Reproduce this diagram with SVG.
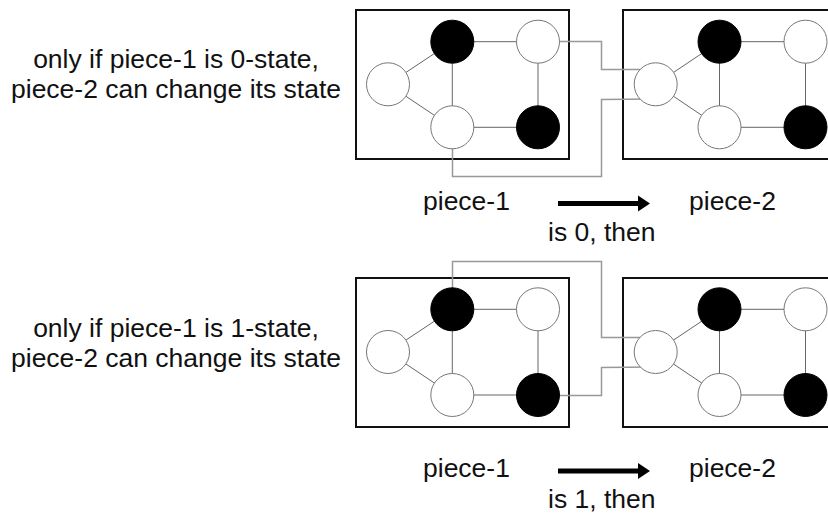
<svg xmlns="http://www.w3.org/2000/svg" xmlns:xlink="http://www.w3.org/1999/xlink" width="828" height="514" viewBox="0 0 828 514">
<defs>
<style>
text{font-family:"Liberation Sans",Arial,sans-serif;font-size:26.5px;fill:#111}
.box{fill:none;stroke:#111;stroke-width:2}
.edge{stroke:#666;stroke-width:1;fill:none}
.conn{stroke:#999;stroke-width:1.5;fill:none}
.w{fill:#fff;stroke:#777;stroke-width:1}
.b{fill:#000;stroke:#000;stroke-width:1}
.mid{text-anchor:middle}
</style>
<path id="arrow" d="M0,-2.5 H80 V-8 L92,0 L80,8 V2.5 H0 Z" fill="#000"/>
</defs>
<rect width="828" height="514" fill="#fff"/>

<g id="caption-top">
<text class="mid" x="176" y="68">only if piece-1 is 0-state,</text>
<text class="mid" x="176" y="98">piece-2 can change its state</text>
</g>
<g id="caption-bottom">
<text class="mid" x="176" y="337">only if piece-1 is 1-state,</text>
<text class="mid" x="176" y="367">piece-2 can change its state</text>
</g>

<g id="boxes">
<rect id="box-p1-top" class="box" x="356" y="10" width="213" height="149"/>
<rect id="box-p2-top" class="box" x="623" y="10" width="230" height="149"/>
<rect id="box-p1-bot" class="box" x="356" y="278" width="213" height="149"/>
<rect id="box-p2-bot" class="box" x="623" y="278" width="230" height="149"/>
</g>

<g id="connectors">
<polyline class="conn" points="538,41.5 601.5,41.5 601.5,69.5 655,69.5"/>
<polyline class="conn" points="452.5,127 452.5,176.5 601.5,176.5 601.5,99.5 655,99"/>
<polyline class="conn" points="452.5,309 452.5,261.5 601.5,261.5 601.5,337.5 655,337.5"/>
<polyline class="conn" points="538,395.5 601.5,395.5 601.5,367.5 655,367"/>
</g>

<g id="edges">
<path class="edge" d="M388,84.3 L452.3,41.7 M388,84.3 L452.3,127.3 M452.3,41.7 H538 M452.3,41.7 V127.3 M538,41.7 V127.3 M452.3,127.3 H538"/>
<path class="edge" d="M655.7,84.3 L719.5,41.7 M655.7,84.3 L719.5,127.3 M719.5,41.7 H805.5 M719.5,41.7 V127.3 M805.5,41.7 V127.3 M719.5,127.3 H805.5"/>
<path class="edge" d="M388,352 L452.3,309.3 M388,352 L452.3,395 M452.3,309.3 H538 M452.3,309.3 V395 M538,309.3 V395 M452.3,395 H538"/>
<path class="edge" d="M655.7,352 L719.5,309.3 M655.7,352 L719.5,395 M719.5,309.3 H805.5 M719.5,309.3 V395 M805.5,309.3 V395 M719.5,395 H805.5"/>
</g>

<g id="piece1-top">
<circle id="p1t-left" class="w" cx="388" cy="84.3" r="21.5"/>
<circle id="p1t-topmid" class="b" cx="452.3" cy="41.7" r="21.5"/>
<circle id="p1t-topright" class="w" cx="538" cy="41.7" r="21.5"/>
<circle id="p1t-botmid" class="w" cx="452.3" cy="127.3" r="21.5"/>
<circle id="p1t-botright" class="b" cx="538" cy="127.3" r="21.5"/>
</g>
<g id="piece2-top">
<circle id="p2t-left" class="w" cx="655.7" cy="84.3" r="21.5"/>
<circle id="p2t-topmid" class="b" cx="719.5" cy="41.7" r="21.5"/>
<circle id="p2t-topright" class="w" cx="805.5" cy="41.7" r="21.5"/>
<circle id="p2t-botmid" class="w" cx="719.5" cy="127.3" r="21.5"/>
<circle id="p2t-botright" class="b" cx="805.5" cy="127.3" r="21.5"/>
</g>
<g id="piece1-bottom">
<circle id="p1b-left" class="w" cx="388" cy="352" r="21.5"/>
<circle id="p1b-topmid" class="b" cx="452.3" cy="309.3" r="21.5"/>
<circle id="p1b-topright" class="w" cx="538" cy="309.3" r="21.5"/>
<circle id="p1b-botmid" class="w" cx="452.3" cy="395" r="21.5"/>
<circle id="p1b-botright" class="b" cx="538" cy="395" r="21.5"/>
</g>
<g id="piece2-bottom">
<circle id="p2b-left" class="w" cx="655.7" cy="352" r="21.5"/>
<circle id="p2b-topmid" class="b" cx="719.5" cy="309.3" r="21.5"/>
<circle id="p2b-topright" class="w" cx="805.5" cy="309.3" r="21.5"/>
<circle id="p2b-botmid" class="w" cx="719.5" cy="395" r="21.5"/>
<circle id="p2b-botright" class="b" cx="805.5" cy="395" r="21.5"/>
</g>

<g id="labels-top">
<text x="423" y="210">piece-1</text>
<use xlink:href="#arrow" x="558" y="203.5"/>
<text x="689" y="210">piece-2</text>
<text x="548" y="241">is 0, then</text>
</g>
<g id="labels-bottom">
<text x="423" y="477">piece-1</text>
<use xlink:href="#arrow" x="558" y="471"/>
<text x="689" y="477">piece-2</text>
<text x="548" y="508">is 1, then</text>
</g>
</svg>
